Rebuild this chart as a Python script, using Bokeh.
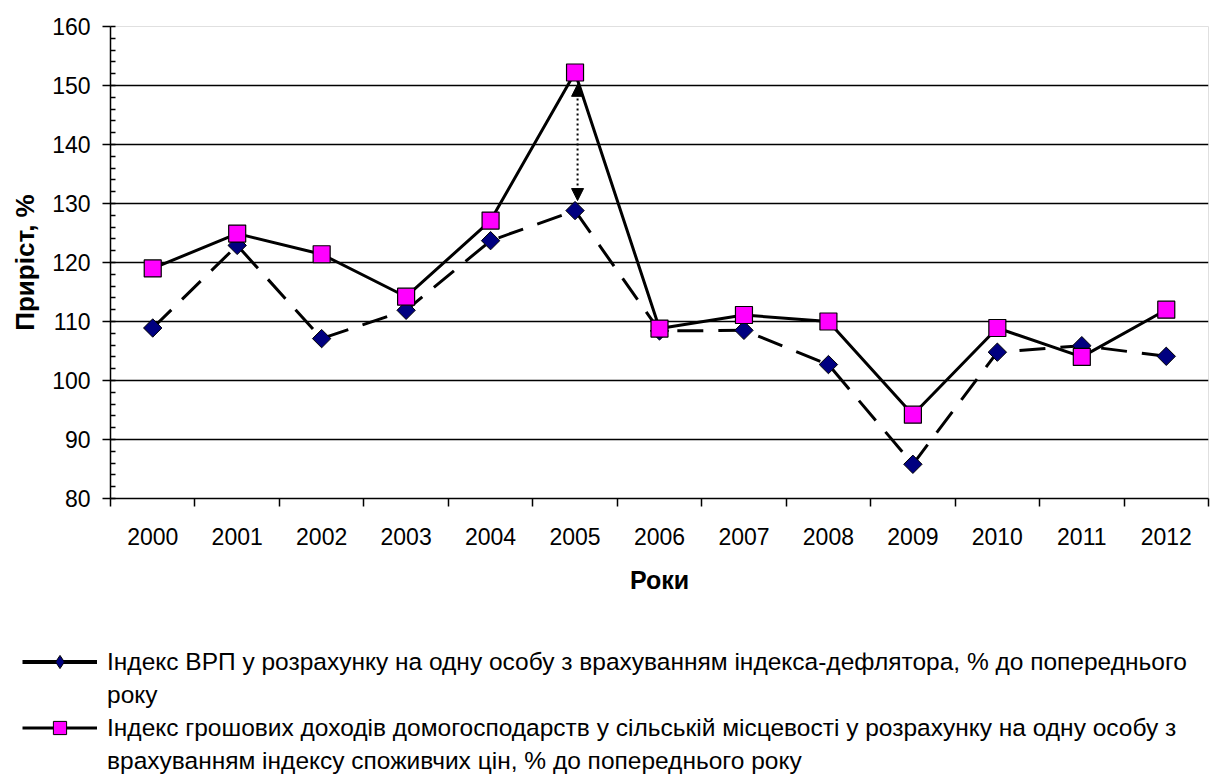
from bokeh.plotting import figure
from bokeh.layouts import column
from bokeh.models import (Range1d, FixedTicker, SingleIntervalTicker, Legend,
                          LegendItem, Arrow, NormalHead)
from bokeh.embed import file_html
from bokeh.resources import INLINE

# ---- data ----
years = ["2000", "2001", "2002", "2003", "2004", "2005", "2006",
         "2007", "2008", "2009", "2010", "2011", "2012"]
gdp_index = [108.9, 122.9, 107.1, 111.9, 123.7, 128.8, 108.4,
             108.5, 102.7, 85.8, 104.8, 105.9, 104.1]
income_index = [119.0, 124.9, 121.4, 114.2, 127.1, 152.2, 108.8,
                111.1, 110.0, 94.2, 108.9, 104.0, 112.0]
y_limits = [80, 160]
legend_gdp = ["Індекс ВРП у розрахунку на одну особу з врахуванням індекса-дефлятора, % до попереднього",
              "року"]
legend_income = ["Індекс грошових доходів домогосподарств у сільській місцевості у розрахунку на одну особу з",
                 "врахуванням індексу споживчих цін, % до попереднього року"]
x_title = "Роки"
y_title = "Приріст, %"

FONT = "Liberation Sans"
n = len(years)
xs = [i + 0.5 for i in range(n)]
NAN = float("nan")

p = figure(width=1216, height=610, output_backend="svg", toolbar_location=None,
           x_range=Range1d(0, n), y_range=Range1d(*y_limits),
           min_border_left=110, min_border_right=8, min_border_top=26,
           min_border_bottom=112)
p.frame_align = False
p.background_fill_color = "white"
p.border_fill_color = "white"
p.outline_line_color = "#e0e0e0"
p.outline_line_width = 1

# y axis
p.yaxis.ticker = SingleIntervalTicker(interval=10, num_minor_ticks=5)
p.yaxis.axis_line_color = "black"
p.yaxis.axis_line_width = 1.5
p.yaxis.major_tick_line_color = "black"
p.yaxis.major_tick_line_width = 1.5
p.yaxis.major_tick_out = 8
p.yaxis.major_tick_in = 0
p.yaxis.minor_tick_line_color = "black"
p.yaxis.minor_tick_line_width = 1.5
p.yaxis.minor_tick_in = 5
p.yaxis.minor_tick_out = 0
p.yaxis.major_label_text_font = FONT
p.yaxis.major_label_text_font_size = "23px"
p.yaxis.major_label_text_color = "black"
p.yaxis.major_label_standoff = 12
p.yaxis.axis_label = y_title
p.yaxis.axis_label_text_font = FONT
p.yaxis.axis_label_text_font_style = "bold"
p.yaxis.axis_label_text_font_size = "26px"
p.yaxis.axis_label_text_color = "black"
p.yaxis.axis_label_standoff = 9

# x axis: labels at category centres, ticks at category boundaries
p.xaxis.ticker = FixedTicker(ticks=xs, minor_ticks=list(range(n + 1)))
p.xaxis.major_label_overrides = {x: y for x, y in zip(xs, years)}
p.xaxis.axis_line_color = "black"
p.xaxis.axis_line_width = 1.5
p.xaxis.major_tick_out = 0
p.xaxis.major_tick_in = 0
p.xaxis.minor_tick_line_color = "black"
p.xaxis.minor_tick_line_width = 1.5
p.xaxis.minor_tick_out = 8
p.xaxis.minor_tick_in = 0
p.xaxis.major_label_text_font = FONT
p.xaxis.major_label_text_font_size = "23px"
p.xaxis.major_label_text_color = "black"
p.xaxis.major_label_standoff = 21
p.xaxis.axis_label = x_title
p.xaxis.axis_label_text_font = FONT
p.xaxis.axis_label_text_font_style = "bold"
p.xaxis.axis_label_text_font_size = "25px"
p.xaxis.axis_label_text_color = "black"
p.xaxis.axis_label_standoff = 18

# grid
p.xgrid.visible = False
p.ygrid.ticker = FixedTicker(ticks=list(range(y_limits[0] + 10, y_limits[1], 10)))
p.ygrid.grid_line_color = "black"
p.ygrid.grid_line_width = 1.3

# series
r_gdp_line = p.line(xs, gdp_index, line_color="black", line_width=3, line_dash="26 15")
r_inc_line = p.line(xs, income_index, line_color="black", line_width=3)
r_gdp_pts = p.scatter(xs, gdp_index, marker="square", angle=0.785398, size=13,
                      fill_color="#000080", line_color="black", line_width=1)
r_inc_pts = p.scatter(xs, income_index, marker="square", size=17,
                      fill_color="#FF00FF", line_color="black", line_width=1.2)

# double arrow between the two 2005 values
k = years.index("2005")
p.add_layout(Arrow(x_start=xs[k] + 0.03, y_start=gdp_index[k] + 1.7,
                   x_end=xs[k] + 0.03, y_end=income_index[k] - 2.0,
                   start=NormalHead(size=12, fill_color="black", line_color="black"),
                   end=NormalHead(size=12, fill_color="black", line_color="black"),
                   line_color="black", line_width=2, line_dash="2 3"))

# ---- legend panel ----
q = figure(width=1216, height=168, output_backend="svg", toolbar_location=None,
           x_axis_location=None, y_axis_location=None,
           min_border=0, min_border_left=0, min_border_right=0,
           min_border_top=0, min_border_bottom=0,
           x_range=Range1d(0, 1), y_range=Range1d(0, 1))
q.frame_align = False
q.grid.visible = False
q.outline_line_color = None
q.background_fill_color = "white"
q.border_fill_color = "white"

leg_gdp_line = q.line(x=[NAN], y=[NAN], line_color="black", line_width=4)
leg_gdp_pts = q.scatter(x=[NAN], y=[NAN], marker="diamond", size=10,
                        fill_color="#000080", line_color="black", line_width=1)
leg_inc_line = q.line(x=[NAN], y=[NAN], line_color="black", line_width=3)
leg_inc_pts = q.scatter(x=[NAN], y=[NAN], marker="square", size=10,
                        fill_color="#FF00FF", line_color="black", line_width=1)
blank = q.line(x=[NAN], y=[NAN], line_alpha=0)

legend = Legend(items=[
    LegendItem(label=legend_gdp[0], renderers=[leg_gdp_line, leg_gdp_pts]),
    LegendItem(label=legend_gdp[1], renderers=[blank]),
    LegendItem(label=legend_income[0], renderers=[leg_inc_line, leg_inc_pts]),
    LegendItem(label=legend_income[1], renderers=[blank]),
], location=(22, 1), orientation="vertical", padding=0, margin=0, spacing=0,
    label_height=33, glyph_height=33, glyph_width=75, label_standoff=10,
    border_line_alpha=0, background_fill_alpha=0,
    label_text_font=FONT, label_text_font_size="24.5px", label_text_color="black")
q.add_layout(legend)

layout = column(p, q, spacing=0)
open("out.html", "w").write(file_html(layout, INLINE))
